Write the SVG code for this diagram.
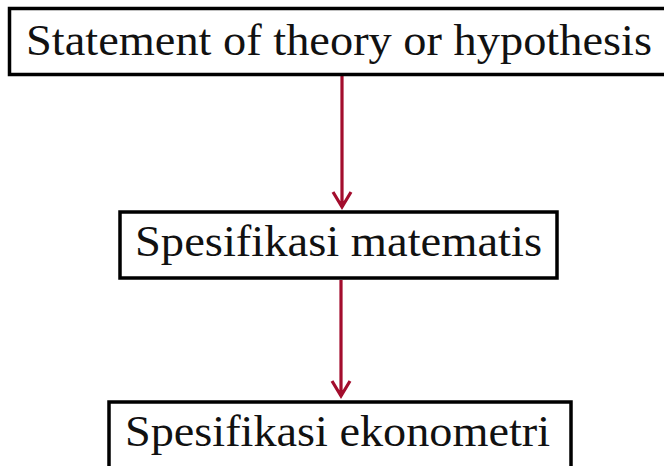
<svg xmlns="http://www.w3.org/2000/svg" width="664" height="466" viewBox="0 0 664 466">
<style>
.box{fill:#fff;stroke:#000;stroke-width:3.5}
.lbl{font-family:"Liberation Serif","Times New Roman",serif;font-size:45px;fill:#111}
.conn{stroke:#A30D2D;stroke-width:3.2;fill:none;stroke-linejoin:miter}
</style>
<rect width="664" height="466" fill="#fff"/>
<g id="connectors">
<path class="conn" d="M342 76 V207 M333 192 L342 207 L351 192"/>
<path class="conn" d="M341 280 V396 M332 381 L341 396 L350 381"/>
</g>
<g id="node-theory">
<rect class="box" x="9.5" y="8.5" width="660" height="66"/>
<text class="lbl" x="26" y="55" textLength="626" lengthAdjust="spacingAndGlyphs">Statement of theory or hypothesis</text>
</g>
<g id="node-matematis">
<rect class="box" x="120" y="212" width="437" height="66"/>
<text class="lbl" x="135" y="256" textLength="407" lengthAdjust="spacingAndGlyphs">Spesifikasi matematis</text>
</g>
<g id="node-ekonometri">
<rect class="box" x="109" y="402" width="462" height="80"/>
<text class="lbl" x="125" y="446" textLength="425" lengthAdjust="spacingAndGlyphs">Spesifikasi ekonometri</text>
</g>
</svg>
